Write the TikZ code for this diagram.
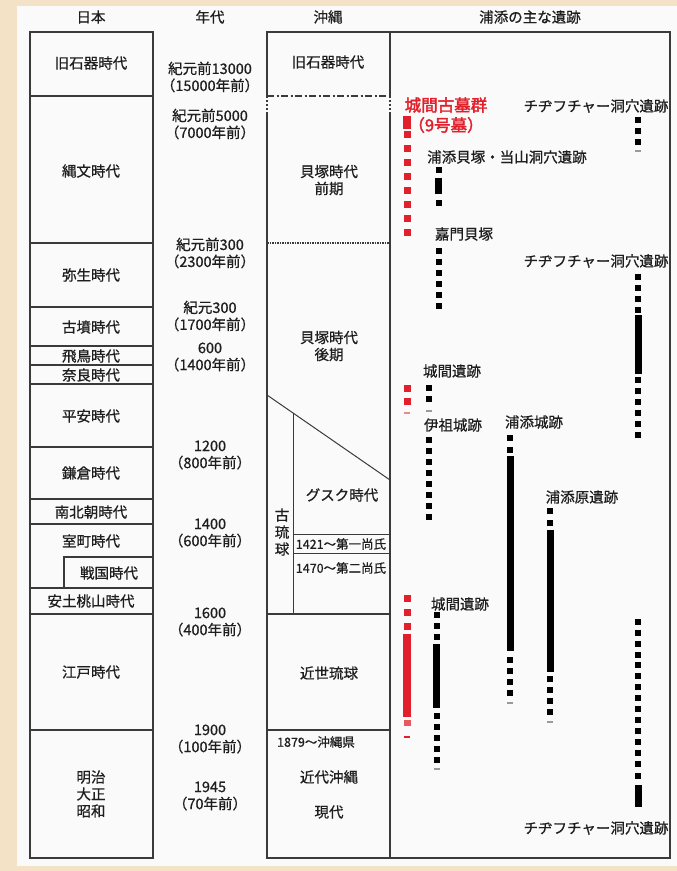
\documentclass[tikz,border=0pt]{standalone}
\usepackage{fontspec}
\setmainfont{Noto Sans CJK JP}[FakeBold=0.7]
\newfontfamily\redfont{Noto Sans CJK JP}[FakeBold=2.2]
\definecolor{bgbeige}{HTML}{F4E2C6}
\definecolor{panel}{HTML}{FAFAFA}
\definecolor{ln}{HTML}{3A3A3A}
\definecolor{txt}{HTML}{1E1E1E}
\definecolor{myred}{HTML}{E2202B}
\definecolor{fade}{HTML}{9A9A9A}
\definecolor{redfade}{HTML}{E88A90}
\newcommand\bsq[2]{\fill[black] (#1-3,#2-3) rectangle (#1+3,#2+3);}
\newcommand\rsq[2]{\fill[myred] (#1-3.5,#2-3.5) rectangle (#1+3.5,#2+3.5);}
\newcommand\bbar[3]{\fill[black] (#1-3.5,#2) rectangle (#1+3.5,#3);}
\newcommand\rbar[3]{\fill[myred] (#1-4,#2) rectangle (#1+4,#3);}
\newcommand\fdash[2]{\fill[fade] (#1-3,#2-1) rectangle (#1+3,#2+1);}
\begin{document}
\begin{tikzpicture}[x=1pt,y=-1pt]
\tikzset{
  lbl/.style={font=\fontsize{14.5}{17}\selectfont, text=txt, inner sep=0pt, align=center},
  sml/.style={font=\fontsize{12.5}{14}\selectfont, text=txt, inner sep=0pt},
  redlbl/.style={font=\redfont\fontsize{16.5}{19}\selectfont, text=myred, inner sep=0pt},
  frame/.style={draw=ln, line width=1.2pt},
  thin/.style={draw=ln, line width=1pt},
}
\useasboundingbox (0,0) rectangle (677,871);
\fill[bgbeige] (0,0) rectangle (677,871);
\fill[panel] (17,6) rectangle (677,866);

% headers
\node[lbl] (h1) at (91,17) {日本};
\node[lbl] (h2) at (210,17) {年代};
\node[lbl] (h3) at (328,17) {沖縄};
\node[lbl] (h4) at (530,17) {浦添の主な遺跡};

% Japan column
\draw[frame] (30,32) rectangle (153,858);
\foreach \yy in {96,243,307,346,365,384,447,499,524,588,614,730}
  \draw[frame] (30,\yy) -- (153,\yy);
\draw[frame] (64,588) -- (64,557) -- (153,557);
\node[lbl] (j1) at (91,63) {旧石器時代};
\node[lbl] (j2) at (91,171) {縄文時代};
\node[lbl] (j3) at (91,275) {弥生時代};
\node[lbl] (j4) at (91,327) {古墳時代};
\node[lbl] (j5) at (91,356) {飛鳥時代};
\node[lbl] (j6) at (91,375) {奈良時代};
\node[lbl] (j7) at (91,416) {平安時代};
\node[lbl] (j8) at (91,473) {鎌倉時代};
\node[lbl] (j9) at (91,512) {南北朝時代};
\node[lbl] (j10) at (91,541) {室町時代};
\node[lbl] (j11) at (109,573) {戦国時代};
\node[lbl] (j12) at (91,601) {安土桃山時代};
\node[lbl] (j13) at (91,672) {江戸時代};
\node[lbl] (j14) at (91,794) {明治\\大正\\昭和};

% dates column
\node[lbl] (d1) at (210,77) {紀元前13000\\（15000年前）};
\node[lbl] (d2) at (210,124) {紀元前5000\\（7000年前）};
\node[lbl] (d3) at (210,253) {紀元前300\\（2300年前）};
\node[lbl] (d4) at (210,316) {紀元300\\（1700年前）};
\node[lbl] (d5) at (210,357) {600\\（1400年前）};
\node[lbl] (d6) at (210,455) {1200\\（800年前）};
\node[lbl] (d7) at (210,533) {1400\\（600年前）};
\node[lbl] (d8) at (210,622) {1600\\（400年前）};
\node[lbl] (d9) at (210,739) {1900\\（100年前）};
\node[lbl] (d10) at (210,796) {1945\\（70年前）};

% Okinawa + sites frame
\draw[frame] (267,96) -- (267,32) -- (670,32) -- (670,858) -- (267,858) -- (267,113);
\draw[frame] (390,32) -- (390,96);
\draw[frame] (390,113) -- (390,858);
\draw[ln, line width=1.2pt, dash pattern=on 2pt off 2pt] (267,96) -- (267,113);
\draw[ln, line width=1.2pt, dash pattern=on 2pt off 2pt] (390,96) -- (390,113);
\draw[ln, line width=1.2pt, dash pattern=on 7pt off 2.5pt on 2pt off 2.5pt] (267,96) -- (390,96);
\draw[ln, line width=1.1pt, dash pattern=on 1.5pt off 1pt] (267,243) -- (390,243);
\draw[thin] (267,395) -- (390,480);
\draw[thin] (293,413) -- (293,614);
\draw[thin] (293,534) -- (390,534);
\draw[thin] (293,553) -- (390,553);
\draw[frame] (267,614) -- (390,614);
\draw[frame] (267,730) -- (390,730);

\node[lbl] (o1) at (328,62) {旧石器時代};
\node[lbl] (o2) at (329,180) {貝塚時代\\前期};
\node[lbl] (o3) at (329,346) {貝塚時代\\後期};
\node[lbl] (o4) at (282,532) {古\\琉\\球};
\node[lbl] (o5) at (342,495) {グスク時代};
\node[sml] (o6) at (341,544) {1421～第一尚氏};
\node[sml] (o7) at (341,568) {1470～第二尚氏};
\node[lbl] (o8) at (329,673) {近世琉球};
\node[sml] (o9) at (316,742) {1879～沖縄県};
\node[lbl] (o10) at (329,777) {近代沖縄};
\node[lbl] (o11) at (329,812) {現代};

% site labels
\node[redlbl] (s1) at (446,105) {城間古墓群};
\node[redlbl] (s1b) at (446,125) {（9号墓）};
\node[lbl] (s2) at (596,106) {チヂフチャー洞穴遺跡};
\node[lbl] (s3) at (507,157) {浦添貝塚・当山洞穴遺跡};
\node[lbl] (s4) at (464,234) {嘉門貝塚};
\node[lbl] (s5) at (596,261) {チヂフチャー洞穴遺跡};
\node[lbl] (s6) at (452,371) {城間遺跡};
\node[lbl] (s7) at (453,425) {伊祖城跡};
\node[lbl] (s8) at (534,422) {浦添城跡};
\node[lbl] (s9) at (582,497) {浦添原遺跡};
\node[lbl] (s10) at (460,604) {城間遺跡};
\node[lbl] (s11) at (596,828) {チヂフチャー洞穴遺跡};

% markers: 城間古墓群
\rbar{407}{116}{129}
\foreach \yy in {134,148,162,176,190,204,218,232} {\rsq{407}{\yy}}
% チヂフチャー 1
\foreach \yy in {120,131,142} {\bsq{638}{\yy}}
\fdash{638}{150.5}
% 浦添貝塚
\bsq{438.5}{170}
\bbar{438.5}{178}{194}
\bsq{438.5}{202.5}
% 嘉門貝塚
\foreach \yy in {251,262,273,284,295,306} {\bsq{438.5}{\yy}}
% チヂフチャー 2
\foreach \yy in {277,288,299,310} {\bsq{638}{\yy}}
\bbar{638}{315}{374}
\foreach \yy in {380,391,402,413,424,435} {\bsq{638}{\yy}}
% 城間遺跡 1
\rsq{407}{388}
\rsq{407}{401}
\fill[redfade] (404,412) rectangle (410,414);
\bsq{429}{388}
\bsq{429}{399}
\fdash{429}{411}
% 伊祖城跡
\foreach \yy in {440,451,462,473,484,495,506,517} {\bsq{429}{\yy}}
% 浦添城跡
\bsq{510}{438}
\bsq{510}{449.5}
\bbar{510}{456}{651}
\foreach \yy in {660,671,682,693} {\bsq{510}{\yy}}
\fdash{510}{703}
% 浦添原遺跡
\bsq{550}{511}
\bsq{550}{522.5}
\bbar{550}{530}{672}
\foreach \yy in {678.5,689.5,700.5,711.5} {\bsq{550}{\yy}}
\fdash{550}{721.5}
% 城間遺跡 2
\foreach \yy in {598,612,626} {\rsq{407}{\yy}}
\rbar{407}{634}{717}
\fill[myred!75] (403.5,719.5) rectangle (410.5,726);
\fill[myred] (404,736) rectangle (410,738);
\foreach \yy in {615,626,637} {\bsq{436.5}{\yy}}
\bbar{436.5}{644}{708}
\foreach \yy in {715.5,726.5,738,749,760} {\bsq{436.5}{\yy}}
\fdash{436.5}{769}
% チヂフチャー 3
\foreach \yy in {622,633,644,655,665,676,687,698,709,720,731,742,753,764,776} {\bsq{638}{\yy}}
\bbar{638}{785}{807}
\end{tikzpicture}
\end{document}
